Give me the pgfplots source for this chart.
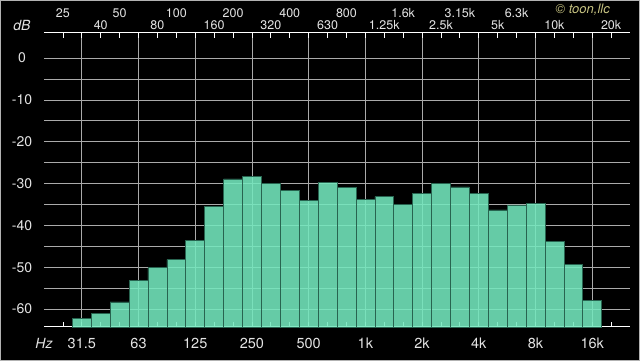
\documentclass[border=0pt]{standalone}
\usepackage{pgfplots}
\pgfplotsset{compat=1.18}
\usepackage{fontspec}
\setmainfont{TeX Gyre Heros}
\definecolor{bargreen}{RGB}{116,232,190}
\definecolor{baredge}{RGB}{40,100,80}
\definecolor{gridgray}{RGB}{170,170,170}
\definecolor{lbl}{RGB}{228,228,228}
\definecolor{copyc}{RGB}{200,196,130}
\begin{document}
\begin{tikzpicture}[x=1pt,y=1pt]
\fill[black] (0,0) rectangle (640,361);
\draw[gray!60,line width=1pt] (0.5,0.5) rectangle (639.5,360.5);
\begin{axis}[
  at={(44pt,34pt)}, anchor=south west,
  scale only axis, width=586pt, height=294pt,
  xmin=-1, xmax=30, ymin=5.7, ymax=76,
  y filter/.expression={y+70},
  separate axis lines,
  x axis line style={white, line width=1pt},
  y axis line style={draw=none},
  xtick={1,4,7,10,13,16,19,22,25,28},
  xticklabels={31.5,63,125,250,500,1k,2k,4k,8k,16k},
  minor xtick={0,2,3,5,6,8,9,11,12,14,15,17,18,20,21,23,24,26,27,29},
  ytick={10,20,30,40,50,60,70},
  yticklabels={-60,-50,-40,-30,-20,-10,0},
  minor ytick={15,25,35,45,55,65},
  xmajorgrids, ymajorgrids, yminorgrids,
  major grid style={gridgray, line width=0.8pt},
  minor grid style={gridgray, line width=0.8pt},
  tick align=inside,
  major tick length=5pt, minor tick length=5pt,
  x tick style={white, line width=0.8pt},
  y tick style={draw=none},
  xticklabel style={anchor=center, yshift=-16pt, text=lbl, font=\fontsize{14.5}{16}\selectfont},
  yticklabel style={anchor=center, xshift=-22pt, text=lbl, font=\fontsize{14}{16}\selectfont},
  /pgf/number format/assume math mode=true,
  clip=false,
]
\addplot[ybar, bar width=1, fill=bargreen, fill opacity=0.88, draw=baredge, line width=0.6pt]
coordinates {
(1,-62.2) (2,-61.1) (3,-58.3) (4,-53.2) (5,-50.1) (6,-48.2) (7,-43.5)
(8,-35.5) (9,-28.9) (10,-28.2) (11,-30.0) (12,-31.6) (13,-34.0) (14,-29.8)
(15,-31.0) (16,-33.8) (17,-33.1) (18,-34.9) (19,-32.4) (20,-30.0) (21,-30.8)
(22,-32.3) (23,-36.3) (24,-35.1) (25,-34.8) (26,-43.8) (27,-49.3) (28,-57.9)
};
% top scale labels
\begin{scope}[every node/.style={text=lbl, font=\fontsize{12.5}{14}\selectfont, anchor=center}]
\node[yshift=20pt] at (axis cs:0,76) {25};
\node[yshift=20pt] at (axis cs:3,76) {50};
\node[yshift=20pt] at (axis cs:6,76) {100};
\node[yshift=20pt] at (axis cs:9,76) {200};
\node[yshift=20pt] at (axis cs:12,76) {400};
\node[yshift=20pt] at (axis cs:15,76) {800};
\node[yshift=20pt] at (axis cs:18,76) {1.6k};
\node[yshift=20pt] at (axis cs:21,76) {3.15k};
\node[yshift=20pt] at (axis cs:24,76) {6.3k};
\node[yshift=7.5pt] at (axis cs:2,76) {40};
\node[yshift=7.5pt] at (axis cs:5,76) {80};
\node[yshift=7.5pt] at (axis cs:8,76) {160};
\node[yshift=7.5pt] at (axis cs:11,76) {320};
\node[yshift=7.5pt] at (axis cs:14,76) {630};
\node[yshift=7.5pt] at (axis cs:17,76) {1.25k};
\node[yshift=7.5pt] at (axis cs:20,76) {2.5k};
\node[yshift=7.5pt] at (axis cs:23,76) {5k};
\node[yshift=7.5pt] at (axis cs:26,76) {10k};
\node[yshift=7.5pt] at (axis cs:29,76) {20k};
\end{scope}
\node[text=lbl, font=\itshape\fontsize{14}{16}\selectfont, anchor=center, xshift=-22pt, yshift=7.5pt] at (rel axis cs:0,1) {dB};
\node[text=lbl, font=\itshape\fontsize{14}{16}\selectfont, anchor=center, yshift=-16pt] at (rel axis cs:0,0) {Hz};
\node[text=copyc, font=\itshape\fontsize{13}{15}\selectfont, anchor=center] at ([yshift=23pt]axis cs:27.5,76) {© toon,llc};
\end{axis}
\end{tikzpicture}
\end{document}
